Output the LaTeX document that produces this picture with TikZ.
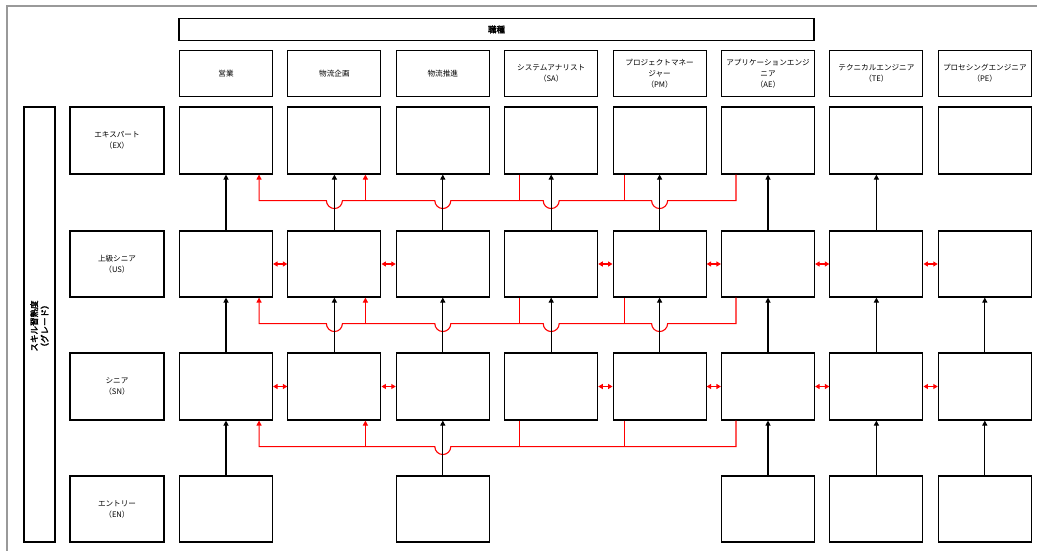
\documentclass[tikz,border=0pt]{standalone}
\usepackage{fontspec}
\newfontfamily\jp[AutoFakeBold=2.5]{Noto Sans CJK JP}
\usetikzlibrary{arrows.meta,calc}

\begin{document}
\begin{tikzpicture}[x=1pt,y=1pt,
  txt/.style={font=\jp\fontsize{7.6}{11}\selectfont},
  cell/.style={txt,draw=black,line width=1.1pt,minimum width=93pt,minimum height=67pt,
    inner sep=0pt,align=center},
  headcell/.style={cell,minimum height=46pt},
  lvlcell/.style={cell,minimum width=94pt},
  blk/.style={line width=1.1pt,-{Triangle[length=5pt,width=5pt]}},
  redwire/.style={red,line width=1.1pt},
  redtip/.style={redwire,-{Triangle[length=5pt,width=5pt]}},
  redboth/.style={redwire,{Triangle[length=4.5pt,width=5pt]}-{Triangle[length=4.5pt,width=5pt]}},
]
\useasboundingbox (0,0) rectangle (1037,-551);
\fill[white] (0,0) rectangle (1037,-551);

% sheet frame
\draw[gray!80,line width=1.6pt] (7,-551) -- (7,-6) -- (1037,-6);

% category title
\node[cell,minimum width=635pt,minimum height=22pt,font=\jp\bfseries\fontsize{8.5}{10}\selectfont]
  (title) at (496.5,-29.5) {職種};

% job columns
\foreach \i/\x/\lab in {
  1/226/{営業},
  2/334.4/{物流企画},
  3/442.8/{物流推進},
  4/551.2/{システムアナリスト\\（SA）},
  5/659.6/{プロジェクトマネー\\ジャー\\（PM）},
  6/768/{アプリケーションエンジ\\ニア\\（AE）},
  7/876.4/{テクニカルエンジニア\\（TE）},
  8/984.8/{プロセシングエンジニア\\（PE）}} {
  \node[headcell] (h\i) at (\x,-73.5) {\lab};
  \node[cell] (e\i) at (\x,-140.5) {};
  \node[cell,minimum height=66pt] (u\i) at (\x,-264) {};
  \node[cell] (s\i) at (\x,-386.5) {};
}
\foreach \i/\x in {1/226,3/442.8,6/768,7/876.4,8/984.8}
  \node[cell,minimum height=66pt] (n\i) at (\x,-509) {};

% grade column
\node[draw=black,line width=1.1pt,minimum width=31pt,minimum height=435pt,inner sep=0pt]
  (gradebox) at (39.5,-324.5) {};
\node[rotate=90,align=right,inner sep=0pt,font=\jp\bfseries\fontsize{8.5}{10.5}\selectfont]
  (grade) at (39.5,-326) {スキル習熟度\\（グレード）};
\node[lvlcell] (lEX) at (117,-140.5) {エキスパート\\（EX）};
\node[lvlcell,minimum height=66pt] (lUS) at (117,-264) {上級シニア\\（US）};
\node[lvlcell] (lSN) at (117,-386.5) {シニア\\（SN）};
\node[lvlcell,minimum height=66pt] (lEN) at (117,-509) {エントリー\\（EN）};

% red cross-column routes (bridging over the promotion arrows)
\newcommand\crossroute[1]{%
  \draw[redtip] ($(#16.south)+(-32,0)$) -- ($(#16.south)+(-32,-26)$)
    -- ($(#15.south)+(8,-26)$) arc[start angle=0,end angle=-180,radius=8]
    -- ($(#14.south)+(8,-26)$) arc[start angle=0,end angle=-180,radius=8]
    -- ($(#13.south)+(8,-26)$) arc[start angle=0,end angle=-180,radius=8]
    -- ($(#12.south)+(8,-26)$) arc[start angle=0,end angle=-180,radius=8]
    -- ($(#11.south east)+(-14,-26)$) -- ($(#11.south east)+(-14,0)$);
  \draw[redtip] ($(#12.south)+(31,-26)$) -- ($(#12.south)+(31,0)$);
  \draw[redwire] ($(#14.south)+(-32,-26)$) -- ($(#14.south)+(-32,0)$);
  \draw[redwire] ($(#15.south)+(-35,-26)$) -- ($(#15.south)+(-35,0)$);
}
\crossroute{e}
\crossroute{u}
\draw[redtip] ($(s6.south)+(-32,0)$) -- ($(s6.south)+(-32,-26)$)
  -- ($(s3.south)+(8,-26)$) arc[start angle=0,end angle=-180,radius=8]
  -- ($(s1.south east)+(-14,-26)$) -- ($(s1.south east)+(-14,0)$);
\draw[redtip] ($(s2.south)+(31,-26)$) -- ($(s2.south)+(31,0)$);
\draw[redwire] ($(s4.south)+(-32,-26)$) -- ($(s4.south)+(-32,0)$);
\draw[redwire] ($(s5.south)+(-35,-26)$) -- ($(s5.south)+(-35,0)$);

% promotion arrows
\foreach \i in {1,...,7} \draw[blk] (u\i.north) -- (e\i.south);
\foreach \i in {1,...,8} \draw[blk] (s\i.north) -- (u\i.south);
\foreach \i in {1,3,6,7,8} \draw[blk] (n\i.north) -- (s\i.south);

% lateral moves
\foreach \a/\b in {1/2,2/3,4/5,5/6,6/7,7/8} {
  \draw[redboth] (u\a.east) -- (u\b.west);
  \draw[redboth] (s\a.east) -- (s\b.west);
}
\end{tikzpicture}
\end{document}
